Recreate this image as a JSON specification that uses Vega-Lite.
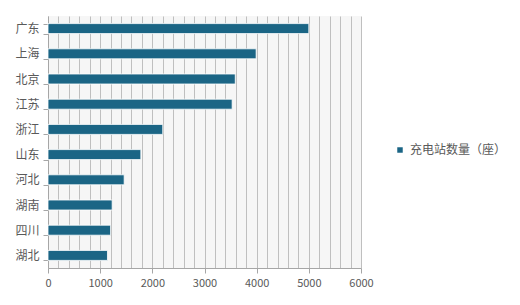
{
  "$schema": "https://vega.github.io/schema/vega-lite/v6.json",
  "width": 313,
  "height": 252,
  "autosize": "none",
  "padding": {"left": 48, "top": 16, "right": 159, "bottom": 37},
  "background": "#ffffff",
  "config": {
    "font": "Noto Sans CJK SC",
    "view": {"fill": "#f6f6f6", "stroke": null}
  },
  "data": {
    "values": [
      {"province": "广东", "value": 5000, "series": "充电站数量（座）"},
      {"province": "上海", "value": 3990, "series": "充电站数量（座）"},
      {"province": "北京", "value": 3590, "series": "充电站数量（座）"},
      {"province": "江苏", "value": 3530, "series": "充电站数量（座）"},
      {"province": "浙江", "value": 2200, "series": "充电站数量（座）"},
      {"province": "山东", "value": 1780, "series": "充电站数量（座）"},
      {"province": "河北", "value": 1460, "series": "充电站数量（座）"},
      {"province": "湖南", "value": 1230, "series": "充电站数量（座）"},
      {"province": "四川", "value": 1200, "series": "充电站数量（座）"},
      {"province": "湖北", "value": 1140, "series": "充电站数量（座）"}
    ]
  },
  "mark": {"type": "bar", "height": 10, "stroke": "#ffffff", "strokeWidth": 0.8},
  "encoding": {
    "y": {
      "field": "province",
      "type": "nominal",
      "sort": null,
      "title": null,
      "scale": {"paddingInner": 0.6, "paddingOuter": 0.3},
      "axis": {
        "tickBand": "extent",
        "domainColor": "#a6a6a6",
        "tickColor": "#a6a6a6",
        "tickSize": 5,
        "labelColor": "#595959",
        "labelFontSize": 12,
        "labelPadding": 4,
        "grid": false
      }
    },
    "x": {
      "field": "value",
      "type": "quantitative",
      "title": null,
      "scale": {"domain": [0, 6000], "nice": false},
      "axis": {
        "values": [0,200,400,600,800,1000,1200,1400,1600,1800,2000,2200,2400,2600,2800,3000,3200,3400,3600,3800,4000,4200,4400,4600,4800,5000,5200,5400,5600,5800,6000],
        "labelExpr": "datum.value % 1000 === 0 ? datum.label : ''",
        "format": "d",
        "grid": true,
        "gridColor": "#bfbfbf",
        "gridWidth": 1,
        "domainColor": "#a6a6a6",
        "tickColor": "#a6a6a6",
        "tickOpacity": {"condition": {"test": "datum.value % 1000 === 0", "value": 1}, "value": 0},
        "tickSize": 5,
        "labelColor": "#595959",
        "labelFontSize": 11,
        "labelPadding": 4,
        "labelFlush": false
      }
    },
    "color": {
      "field": "series",
      "type": "nominal",
      "scale": {"range": ["#1b6585"]},
      "legend": {
        "title": null,
        "orient": "none",
        "legendX": 346,
        "legendY": 128,
        "symbolType": "square",
        "symbolSize": 30,
        "symbolStrokeWidth": 0,
        "labelFontSize": 12,
        "labelColor": "#595959",
        "labelOffset": 4
      }
    }
  }
}
